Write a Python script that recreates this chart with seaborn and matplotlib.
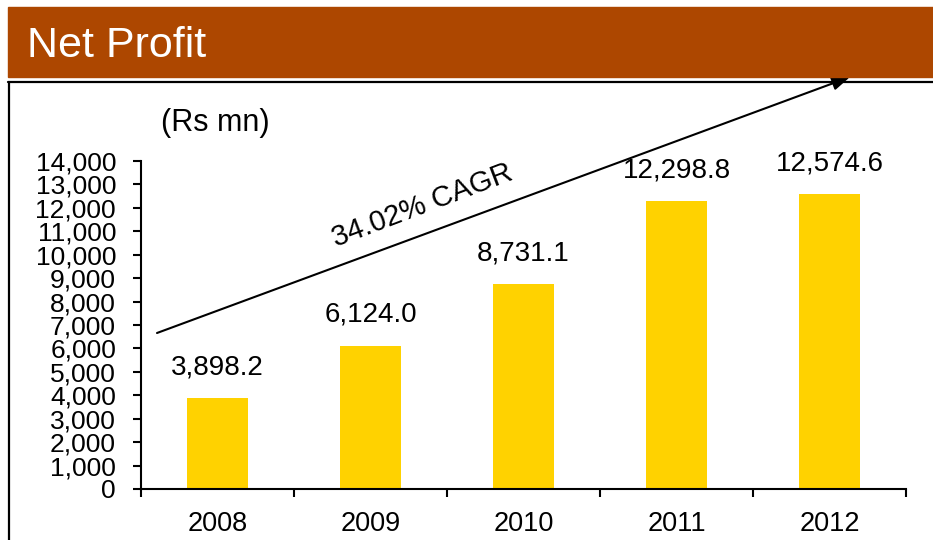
import matplotlib
matplotlib.use("Agg")
import matplotlib.pyplot as plt
import seaborn as sns
import pandas as pd
from matplotlib.ticker import FuncFormatter, FixedLocator

years = ["2008", "2009", "2010", "2011", "2012"]
net_profit = [3898.2, 6124.0, 8731.1, 12298.8, 12574.6]
value_labels = ["3,898.2", "6,124.0", "8,731.1", "12,298.8", "12,574.6"]
title = "Net Profit"
unit_label = "(Rs mn)"
cagr_label = "34.02% CAGR"

sns.set_theme(style="white")
plt.rcParams['font.family'] = ['Liberation Sans', 'DejaVu Sans']

W, H = 933, 540
fig = plt.figure(figsize=(W / 100, H / 100), dpi=100)

def fx(px):
    return px / W

def fy(py):
    return 1 - py / H

# header band
fig.patches.append(plt.Rectangle((fx(8), fy(77)), fx(933 - 8), 70 / H,
                                 transform=fig.transFigure, color="#AD4700", zorder=0))
fig.text(fx(27), fy(46), title, color="white", fontsize=31, va="center", ha="left")
# border lines
fig.add_artist(plt.Line2D([fx(8), fx(933)], [fy(82), fy(82)], transform=fig.transFigure,
                          color="black", lw=1.6))
fig.add_artist(plt.Line2D([fx(9), fx(9)], [fy(82), fy(540)], transform=fig.transFigure,
                          color="black", lw=1.6))

ax = fig.add_axes([fx(141), fy(489), fx(906) - fx(141), (489 - 161) / H])
df = pd.DataFrame({"year": years, "value": net_profit})
sns.barplot(data=df, x="year", y="value", color="#FFD200", width=0.4, ax=ax,
            saturation=1, edgecolor="none")

ax.set_xlim(-0.5, 4.5)
ax.set_ylim(0, 14000)
ax.set_yticks(range(0, 14001, 1000))
ax.yaxis.set_major_formatter(FuncFormatter(lambda v, p: f"{int(v):,}"))
ax.set_xlabel("")
ax.set_ylabel("")
for s in ["top", "right"]:
    ax.spines[s].set_visible(False)
for s in ["left", "bottom"]:
    ax.spines[s].set_color("black")
    ax.spines[s].set_linewidth(1.5)

ax.tick_params(axis="y", which="major", direction="out", length=6, width=1.5,
               color="black", left=True, labelsize=19, pad=12, labelcolor="black")
ax.tick_params(axis="x", which="major", length=0, labelsize=19.5, pad=16, labelcolor="black")
ax.xaxis.set_minor_locator(FixedLocator([-0.5, 0.5, 1.5, 2.5, 3.5, 4.5]))
ax.tick_params(axis="x", which="minor", direction="out", length=6, width=1.5,
               color="black", bottom=True)

for i, (v, t) in enumerate(zip(net_profit, value_labels)):
    ax.annotate(t, xy=(i, v), xytext=(0, 17), textcoords="offset points",
                ha="center", va="baseline", fontsize=20, color="black")

fig.text(fx(215), fy(123), unit_label, fontsize=22, ha="center", va="center", color="black")

# CAGR arrow
ax.annotate("", xy=(fx(850), fy(77)), xycoords="figure fraction",
            xytext=(fx(157), fy(333)), textcoords="figure fraction",
            arrowprops=dict(arrowstyle="-|>,head_length=0.9,head_width=0.35",
                            color="black", lw=1.5, shrinkA=0, shrinkB=0),
            annotation_clip=False)
fig.text(fx(422), fy(206), cagr_label, fontsize=21, rotation=20.8,
         rotation_mode="anchor", ha="center", va="center", color="black")

fig.savefig("out.png", dpi=100)
